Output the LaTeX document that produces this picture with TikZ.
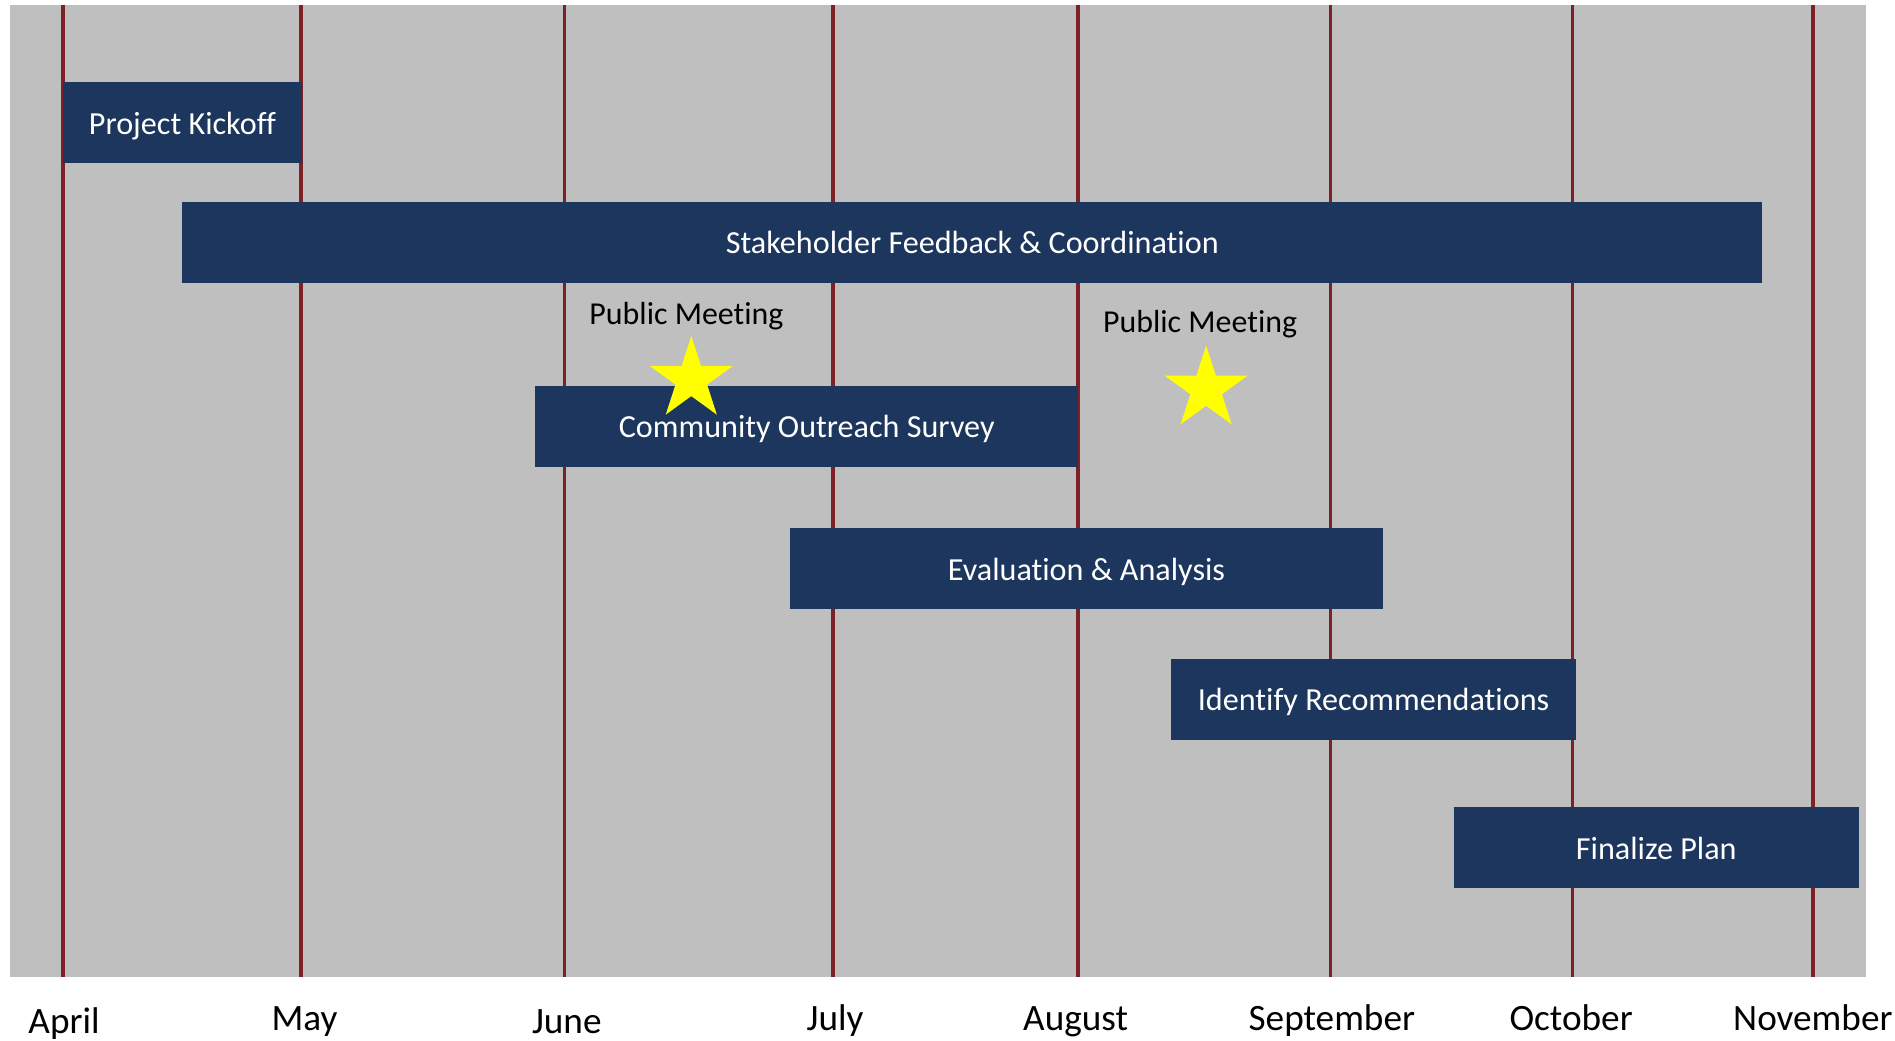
\documentclass[tikz,border=0pt]{standalone}
\usepackage{fontspec}
\setmainfont{Carlito}[Ligatures=NoCommon]
\usetikzlibrary{shapes.geometric}
\definecolor{bggray}{RGB}{191,191,191}
\definecolor{navy}{RGB}{28,54,93}
\definecolor{monthline}{RGB}{126,33,38}
\definecolor{staryellow}{RGB}{255,255,0}
\tikzset{
  bar/.style={fill=navy, draw=none, text=white, inner sep=0pt, minimum height=33.5pt, text height=10pt, text depth=0.4pt, font=\fontsize{13.3}{15}\selectfont},
  monthline/.style={draw=monthline, line width=1.5pt},
  monthlabel/.style={anchor=base, inner sep=0pt, font=\fontsize{15.4}{18}\selectfont},
  meetlabel/.style={inner sep=0pt, font=\fontsize{13.2}{15}\selectfont},
  meetstar/.style={star, star points=5, star point ratio=2.618, fill=staryellow, draw=none, inner sep=0pt, minimum size=36pt}
}
\begin{document}
\begin{tikzpicture}[x=0.5pt,y=-0.5pt]
\useasboundingbox (0,0) rectangle (1568,861);
\fill[white] (0,0) rectangle (1568,861);
\fill[bggray] (8,4) rectangle (1544,808);
% month lines
\foreach \name/\x in {apr/52,may/249,jun/467,jul/689,aug/892,sep/1101,oct/1301,nov/1500}{
  \coordinate (\name top) at (\x,4);
  \coordinate (\name bot) at (\x,808);
  \draw[monthline] (\name top) -- (\name bot);
}
% month labels
\node[monthlabel] (lapr) at (53,855.5) {April};
\node[monthlabel] (lmay) at (252,852.5) {May};
\node[monthlabel] (ljun) at (469,855.5) {June};
\node[monthlabel] (ljul) at (691,852.5) {July};
\node[monthlabel] (laug) at (890,852.5) {August};
\node[monthlabel] (lsep) at (1102,852.5) {September};
\node[monthlabel] (loct) at (1300,852.5) {October};
\node[monthlabel] (lnov) at (1500,852.5) {November};
% bars
\node[bar, minimum width=99pt] (kick) at (151,101.5) {Project Kickoff};
\node[bar, minimum width=653.5pt] (stake) at (804.5,200.5) {Stakeholder Feedback \& Coordination};
\node[bar, minimum width=224.5pt] (survey) at (667.5,352.5) {Community Outreach Survey};
\node[bar, minimum width=245pt] (eval) at (899,470.5) {Evaluation \& Analysis};
\node[bar, minimum width=167.5pt] (ident) at (1136.5,578.5) {Identify Recommendations};
\node[bar, minimum width=167.5pt] (final) at (1370.5,701.5) {Finalize Plan};
% public meetings
\node[meetlabel] (pm1) at (568,261.5) {Public Meeting};
\node[meetstar] (star1) at (572,314) {};
\node[meetlabel] (pm2) at (993,268.5) {Public Meeting};
\node[meetstar] (star2) at (998,322) {};
\end{tikzpicture}
\end{document}
